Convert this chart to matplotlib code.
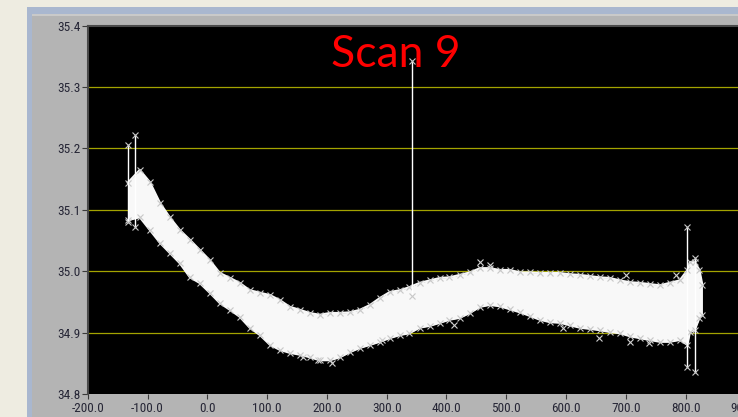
import matplotlib.pyplot as plt
from matplotlib.patches import Rectangle

# scan 9 band: sampled position with upper / lower edge of the point cloud
pos = [-133, -113, -96, -79, -63, -46, -29, -13, 4, 21, 38, 54, 71, 88, 105,
       121, 138, 155, 171, 188, 205, 222, 238, 255, 272, 288, 305, 322, 338,
       355, 372, 389, 405, 422, 439, 456, 472, 489, 506, 523, 540, 556, 573,
       590, 606, 623, 640, 656, 673, 690, 707, 723, 740, 757, 773, 790, 803,
       807, 815, 823, 828]
upper = [35.144, 35.165, 35.145, 35.111, 35.088, 35.067, 35.051, 35.035,
         35.018, 34.997, 34.989, 34.981, 34.969, 34.965, 34.961, 34.953,
         34.942, 34.937, 34.932, 34.929, 34.932, 34.932, 34.933, 34.937,
         34.945, 34.956, 34.966, 34.969, 34.974, 34.981, 34.985, 34.989,
         34.990, 34.994, 34.998, 35.005, 35.005, 35.002, 35.002, 34.998,
         34.998, 34.997, 34.997, 34.997, 34.995, 34.994, 34.992, 34.990,
         34.989, 34.985, 34.982, 34.981, 34.979, 34.977, 34.981, 34.985,
         35.002, 35.015, 35.015, 35.002, 34.977]
lower = [35.083, 35.088, 35.067, 35.046, 35.030, 35.013, 34.990, 34.981,
         34.965, 34.948, 34.937, 34.926, 34.908, 34.896, 34.880, 34.872,
         34.867, 34.864, 34.860, 34.855, 34.855, 34.860, 34.868, 34.875,
         34.880, 34.885, 34.891, 34.896, 34.899, 34.908, 34.911, 34.916,
         34.921, 34.924, 34.932, 34.942, 34.945, 34.943, 34.938, 34.933,
         34.927, 34.921, 34.917, 34.916, 34.912, 34.908, 34.906, 34.904,
         34.901, 34.899, 34.894, 34.891, 34.888, 34.885, 34.885, 34.888,
         34.880, 34.901, 34.904, 34.924, 34.929]

# isolated readings well outside the band
out_x = [456, 472, 700, 783, 160, 185, 208, 292, 413, 595, 655, 707, 738]
out_y = [35.015, 35.010, 34.994, 34.994, 34.860, 34.855, 34.850, 34.888,
         34.912, 34.908, 34.891, 34.885, 34.883]

# single-sample glitches: position, top, bottom
spike_x = [-133, -121, 342, 802, 815]
spike_top = [35.205, 35.222, 35.342, 35.072, 35.021]
spike_bot = [35.080, 35.072, 34.960, 34.844, 34.836]

grid_levels = [34.9, 35.0, 35.1, 35.2, 35.3]
xticks = [-200, -100, 0, 100, 200, 300, 400, 500, 600, 700, 800, 900]
yticks = [34.8, 34.9, 35.0, 35.1, 35.2, 35.3, 35.4]

W, H = 738, 417
fig = plt.figure(figsize=(W / 100, H / 100), dpi=100)
fig.patch.set_facecolor('#EEECE1')

# window frame behind the graph
fig.patches.append(Rectangle((27 / W, 0), 1, (H - 7) / H, transform=fig.transFigure,
                             facecolor='#A9B7CF', edgecolor='none', zorder=-3))
fig.patches.append(Rectangle((32 / W, 0), 1, (H - 14) / H, transform=fig.transFigure,
                             facecolor='#B4B4B4', edgecolor='none', zorder=-2))
fig.patches.append(Rectangle((32 / W, (H - 15.5) / H), 1, 1.5 / H, transform=fig.transFigure,
                             facecolor='#C9C9C9', edgecolor='none', zorder=-1))

left, right = 87.7, 745.5
top, bottom = 25.6, 394
ax = fig.add_axes([left / W, (H - bottom) / H, (right - left) / W, (bottom - top) / H])
ax.set_zorder(1)
ax.set_facecolor('black')
ax.set_xlim(-200, 900)
ax.set_ylim(34.8, 35.4)

for lvl in grid_levels:
    ax.axhline(lvl, color='#A3A300', lw=0.9, zorder=1)

ax.fill_between(pos, lower, upper, color='#F8F8F8', lw=0, zorder=2)
ax.plot(pos, upper, color='#F8F8F8', lw=1.5, zorder=2)
ax.plot(pos, lower, color='#F8F8F8', lw=1.5, zorder=2)
ax.plot(pos, upper, ls='none', marker='x', ms=5, mew=0.8, color='#C8C8C8', zorder=3)
ax.plot(pos, lower, ls='none', marker='x', ms=5, mew=0.8, color='#C8C8C8', zorder=3)
ax.plot(out_x, out_y, ls='none', marker='x', ms=5, mew=0.8, color='#D0D0D0', zorder=3)

for sx, st, sb in zip(spike_x, spike_top, spike_bot):
    ax.plot([sx, sx], [sb, st], color='white', lw=1.0, zorder=3)
    ax.plot([sx, sx], [sb, st], ls='none', marker='x', ms=4, mew=0.8, color='#C8C8C8', zorder=4)

ax.set_xticks(xticks)
ax.set_xticklabels([f'{v:.1f}' for v in xticks])
ax.set_yticks(yticks)
ax.set_yticklabels([f'{v:.1f}' for v in yticks])
tick_font = ['Roboto Condensed', 'Liberation Sans Narrow', 'Liberation Sans']
for lab in ax.get_xticklabels() + ax.get_yticklabels():
    lab.set_family(tick_font)
    lab.set_fontsize(9.5)
    lab.set_color('#262636')
ax.tick_params(axis='x', direction='out', length=3.5, width=0.8, pad=2, color='#3A3A3A')
ax.tick_params(axis='y', direction='out', length=4, width=0.8, pad=1, color='#3A3A3A')

for side in ['left', 'top']:
    ax.spines[side].set_color('#4A4A4A')
    ax.spines[side].set_linewidth(1.5)
for side in ['right', 'bottom']:
    ax.spines[side].set_visible(False)

fig.text(395.5 / W, (H - 67) / H, 'Scan 9', color='#FF0000', fontsize=32,
         family=['Lato', 'DejaVu Sans'], ha='center', va='baseline', zorder=5)

fig.savefig('out.png', dpi=100, facecolor=fig.get_facecolor())
